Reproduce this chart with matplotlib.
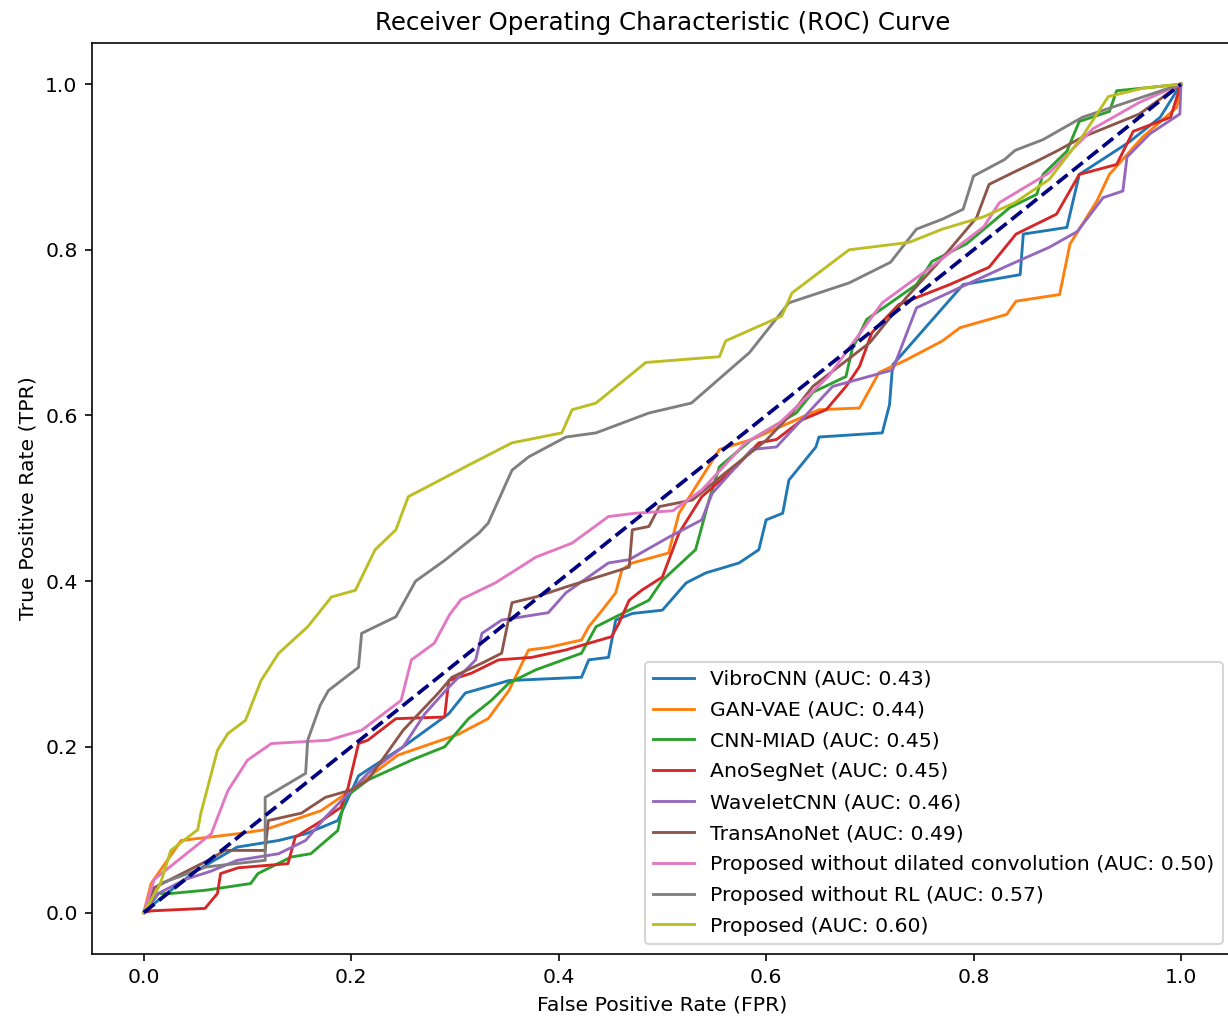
import matplotlib
matplotlib.use('Agg')
import matplotlib.pyplot as plt

# ROC curve points
vibro_fpr = [0, 0.014, 0.05, 0.09, 0.13, 0.156, 0.187, 0.207, 0.25, 0.294, 0.31, 0.352, 0.422, 0.429, 0.448,
             0.455, 0.471, 0.5, 0.523, 0.542, 0.574, 0.593, 0.6, 0.616, 0.622, 0.648, 0.651, 0.712, 0.719,
             0.722, 0.79, 0.845, 0.848, 0.89, 0.902, 0.95, 0.98, 1]
vibro_tpr = [0, 0.015, 0.05, 0.079, 0.087, 0.095, 0.111, 0.165, 0.2, 0.24, 0.265, 0.28, 0.284, 0.305, 0.308,
             0.353, 0.361, 0.365, 0.398, 0.41, 0.422, 0.438, 0.474, 0.482, 0.522, 0.562, 0.574, 0.579, 0.613,
             0.661, 0.758, 0.77, 0.819, 0.827, 0.891, 0.93, 0.96, 1]

ganvae_fpr = [0, 0.007, 0.036, 0.09, 0.117, 0.171, 0.2, 0.245, 0.303, 0.332, 0.352, 0.371, 0.39, 0.422, 0.429,
              0.442, 0.455, 0.461, 0.471, 0.506, 0.516, 0.555, 0.586, 0.651, 0.69, 0.709, 0.735, 0.77, 0.787,
              0.832, 0.841, 0.883, 0.893, 0.919, 0.931, 0.963, 0.996, 1]
ganvae_tpr = [0, 0.035, 0.087, 0.095, 0.1, 0.123, 0.148, 0.19, 0.215, 0.234, 0.268, 0.317, 0.32, 0.329, 0.345,
              0.365, 0.386, 0.414, 0.422, 0.434, 0.482, 0.559, 0.571, 0.607, 0.609, 0.652, 0.667, 0.69, 0.706,
              0.722, 0.738, 0.746, 0.807, 0.859, 0.891, 0.936, 0.972, 1]

cnnmiad_fpr = [0, 0.014, 0.026, 0.06, 0.103, 0.11, 0.142, 0.161, 0.187, 0.194, 0.216, 0.26, 0.29, 0.313, 0.335,
               0.352, 0.378, 0.422, 0.436, 0.455, 0.487, 0.5, 0.532, 0.545, 0.555, 0.586, 0.629, 0.645, 0.677,
               0.683, 0.697, 0.745, 0.76, 0.793, 0.835, 0.861, 0.867, 0.89, 0.902, 0.931, 0.938, 0.97, 1]
cnnmiad_tpr = [0, 0.023, 0.023, 0.027, 0.035, 0.047, 0.067, 0.071, 0.099, 0.139, 0.16, 0.185, 0.2, 0.234, 0.256,
               0.277, 0.293, 0.313, 0.345, 0.357, 0.377, 0.401, 0.438, 0.498, 0.538, 0.571, 0.603, 0.628, 0.647,
               0.68, 0.716, 0.758, 0.786, 0.807, 0.851, 0.867, 0.891, 0.919, 0.955, 0.967, 0.992, 0.996, 1]

anoseg_fpr = [0, 0.007, 0.059, 0.071, 0.074, 0.091, 0.139, 0.146, 0.168, 0.19, 0.197, 0.207, 0.216, 0.243, 0.29,
              0.294, 0.316, 0.342, 0.374, 0.407, 0.451, 0.458, 0.468, 0.48, 0.5, 0.516, 0.538, 0.571, 0.593,
              0.61, 0.635, 0.658, 0.677, 0.69, 0.702, 0.728, 0.777, 0.815, 0.841, 0.88, 0.902, 0.938, 0.954,
              0.99, 1]
anoseg_tpr = [0, 0.002, 0.005, 0.023, 0.047, 0.054, 0.059, 0.091, 0.108, 0.127, 0.151, 0.204, 0.208, 0.234, 0.236,
              0.28, 0.289, 0.305, 0.308, 0.317, 0.333, 0.349, 0.377, 0.389, 0.405, 0.458, 0.502, 0.538, 0.567,
              0.571, 0.595, 0.607, 0.635, 0.659, 0.7, 0.734, 0.758, 0.779, 0.819, 0.843, 0.891, 0.903, 0.943,
              0.96, 1]

wavelet_fpr = [0, 0.014, 0.04, 0.065, 0.09, 0.13, 0.156, 0.175, 0.216, 0.25, 0.271, 0.294, 0.32, 0.326, 0.345,
               0.39, 0.407, 0.448, 0.468, 0.506, 0.538, 0.548, 0.586, 0.61, 0.664, 0.722, 0.745, 0.793, 0.835,
               0.873, 0.9, 0.925, 0.944, 0.948, 0.97, 0.999, 1]
wavelet_tpr = [0, 0.023, 0.04, 0.05, 0.063, 0.071, 0.087, 0.115, 0.168, 0.2, 0.24, 0.272, 0.305, 0.337, 0.353,
               0.362, 0.386, 0.422, 0.426, 0.453, 0.474, 0.506, 0.559, 0.562, 0.635, 0.655, 0.73, 0.758, 0.782,
               0.803, 0.822, 0.863, 0.871, 0.912, 0.94, 0.964, 1]

trans_fpr = [0, 0.01, 0.062, 0.078, 0.117, 0.12, 0.152, 0.175, 0.2, 0.216, 0.25, 0.284, 0.297, 0.326, 0.345,
             0.355, 0.378, 0.407, 0.468, 0.471, 0.487, 0.497, 0.529, 0.56, 0.6, 0.625, 0.645, 0.7, 0.735, 0.77,
             0.803, 0.815, 0.841, 0.861, 0.88, 0.905, 0.96, 1]
trans_tpr = [0, 0.03, 0.063, 0.075, 0.075, 0.111, 0.12, 0.139, 0.148, 0.16, 0.22, 0.265, 0.284, 0.301, 0.313,
             0.374, 0.381, 0.393, 0.417, 0.462, 0.466, 0.49, 0.498, 0.53, 0.57, 0.603, 0.635, 0.688, 0.742, 0.79,
             0.839, 0.879, 0.895, 0.907, 0.919, 0.936, 0.964, 1]

nodil_fpr = [0, 0.01, 0.065, 0.081, 0.1, 0.123, 0.178, 0.21, 0.248, 0.258, 0.28, 0.295, 0.306, 0.339, 0.378,
             0.413, 0.448, 0.474, 0.51, 0.538, 0.58, 0.613, 0.66, 0.712, 0.76, 0.81, 0.825, 0.873, 0.915,
             0.96, 1]
nodil_tpr = [0, 0.04, 0.095, 0.147, 0.184, 0.204, 0.208, 0.22, 0.256, 0.305, 0.325, 0.36, 0.378, 0.398, 0.429,
             0.446, 0.478, 0.482, 0.485, 0.51, 0.567, 0.591, 0.647, 0.736, 0.78, 0.828, 0.857, 0.893, 0.946,
             0.978, 1]

norl_fpr = [0, 0.016, 0.06, 0.117, 0.117, 0.156, 0.158, 0.17, 0.178, 0.207, 0.21, 0.243, 0.262, 0.29, 0.323,
            0.332, 0.355, 0.371, 0.407, 0.436, 0.487, 0.528, 0.584, 0.622, 0.68, 0.72, 0.745, 0.77, 0.79, 0.8,
            0.83, 0.84, 0.867, 0.905, 1]
norl_tpr = [0, 0.035, 0.055, 0.063, 0.139, 0.168, 0.208, 0.25, 0.268, 0.296, 0.337, 0.357, 0.4, 0.425, 0.458,
            0.47, 0.534, 0.55, 0.574, 0.579, 0.603, 0.615, 0.676, 0.736, 0.76, 0.785, 0.825, 0.837, 0.849, 0.889,
            0.909, 0.92, 0.933, 0.96, 1]

prop_fpr = [0, 0.016, 0.026, 0.052, 0.055, 0.071, 0.081, 0.098, 0.113, 0.13, 0.158, 0.181, 0.204, 0.223, 0.243,
            0.255, 0.281, 0.313, 0.355, 0.403, 0.413, 0.436, 0.484, 0.555, 0.561, 0.615, 0.625, 0.68, 0.738,
            0.77, 0.81, 0.84, 0.873, 0.905, 0.93, 0.963, 1]
prop_tpr = [0, 0.035, 0.075, 0.1, 0.12, 0.196, 0.216, 0.232, 0.28, 0.313, 0.345, 0.381, 0.389, 0.438, 0.462,
            0.502, 0.519, 0.54, 0.567, 0.579, 0.607, 0.615, 0.664, 0.671, 0.69, 0.72, 0.748, 0.80, 0.809,
            0.825, 0.84, 0.857, 0.885, 0.937, 0.985, 0.995, 1]

labels = ['VibroCNN', 'GAN-VAE', 'CNN-MIAD', 'AnoSegNet', 'WaveletCNN', 'TransAnoNet',
          'Proposed without dilated convolution', 'Proposed without RL', 'Proposed']
auc_values = [0.43, 0.44, 0.45, 0.45, 0.46, 0.49, 0.50, 0.57, 0.60]
curves = [(vibro_fpr, vibro_tpr), (ganvae_fpr, ganvae_tpr), (cnnmiad_fpr, cnnmiad_tpr),
          (anoseg_fpr, anoseg_tpr), (wavelet_fpr, wavelet_tpr), (trans_fpr, trans_tpr),
          (nodil_fpr, nodil_tpr), (norl_fpr, norl_tpr), (prop_fpr, prop_tpr)]

DPI = 147
fig = plt.figure(figsize=(1228 / DPI, 1017 / DPI), dpi=DPI)
# right spine sits just past the picture edge, like in the original crop
ax = fig.add_axes([0.0749, 0.062, 0.929, 0.896])

for (fpr, tpr), name, auc in zip(curves, labels, auc_values):
    ax.plot(fpr, tpr, lw=1.4, label=f'{name} (AUC: {auc:.2f})')

ax.plot([0, 1], [0, 1], color='navy', linestyle='--', lw=1.8)
ax.set_title('Receiver Operating Characteristic (ROC) Curve')
ax.set_xlabel('False Positive Rate (FPR)')
ax.set_ylabel('True Positive Rate (TPR)')
ax.legend(loc='lower right', labelspacing=0.58)

fig.savefig('out.png', dpi=DPI)
